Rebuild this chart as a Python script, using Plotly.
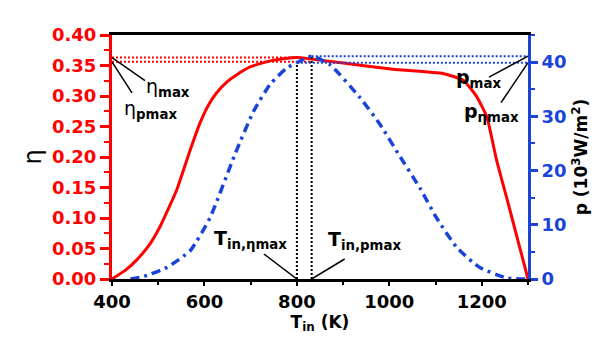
import plotly.graph_objects as go

# ---- data ----
T_eta = [400, 430, 453, 480, 504, 540, 569, 590, 610, 626, 650, 670, 700, 720, 745, 770, 800,
         828, 900, 1008, 1116, 1160, 1189, 1211, 1232, 1255, 1300]
eta = [0.0, 0.015, 0.031, 0.055, 0.086, 0.146, 0.211, 0.255, 0.287, 0.305, 0.324, 0.335,
       0.348, 0.353, 0.358, 0.361, 0.363, 0.361, 0.354, 0.344, 0.337, 0.326, 0.299, 0.266,
       0.195, 0.130, 0.0]

T_p = [440, 470, 518, 569, 612, 666, 706, 742, 778, 800, 832, 872, 937, 980, 1020, 1066,
       1102, 1146, 1196, 1254, 1300]
p = [0.0, 0.5, 2.1, 5.2, 11.3, 23.0, 30.9, 35.9, 38.9, 39.9, 41.1, 39.5, 33.4, 28.5, 23.0,
     16.8, 11.3, 5.8, 2.1, 0.2, 0.0]

T_eta_max = 800
T_p_max = 832
eta_max = 0.363
eta_pmax = 0.356
p_max = 41.1
p_etamax = 39.9

x_range = [400, 1300]
y_range = [0, 0.40]
y2_range = [0, 45]
x_ticks = [400, 600, 800, 1000, 1200]
y_ticks = [0.00, 0.05, 0.10, 0.15, 0.20, 0.25, 0.30, 0.35, 0.40]
y2_ticks = [0, 10, 20, 30, 40]

RED = "#ff0000"
BLUE = "#1a44d8"
FONT = "DejaVu Sans"

fig = go.Figure()

# reference dotted lines
fig.add_trace(go.Scatter(x=[x_range[0], T_eta_max], y=[eta_max, eta_max], mode="lines",
                         line=dict(color=RED, width=2, dash="2px,2px"), hoverinfo="skip"))
fig.add_trace(go.Scatter(x=[x_range[0], T_p_max], y=[eta_pmax, eta_pmax], mode="lines",
                         line=dict(color=RED, width=2, dash="2px,2px"), hoverinfo="skip"))
fig.add_trace(go.Scatter(x=[T_p_max, x_range[1]], y=[p_max, p_max], mode="lines", yaxis="y2",
                         line=dict(color=BLUE, width=2, dash="2px,2px"), hoverinfo="skip"))
fig.add_trace(go.Scatter(x=[T_eta_max, x_range[1]], y=[p_etamax, p_etamax], mode="lines", yaxis="y2",
                         line=dict(color=BLUE, width=2, dash="2px,2px"), hoverinfo="skip"))
fig.add_trace(go.Scatter(x=[T_eta_max, T_eta_max], y=[0, eta_max], mode="lines",
                         line=dict(color="black", width=2, dash="2px,2px"), hoverinfo="skip"))
fig.add_trace(go.Scatter(x=[T_p_max, T_p_max], y=[0, p_max], mode="lines", yaxis="y2",
                         line=dict(color="black", width=2, dash="2px,2px"), hoverinfo="skip"))

# main curves
fig.add_trace(go.Scatter(x=T_p, y=p, mode="lines", yaxis="y2",
                         line=dict(color=BLUE, width=3.5, dash="9px,5px,3px,5px",
                                   shape="spline", smoothing=0.5)))
fig.add_trace(go.Scatter(x=T_eta, y=eta, mode="lines",
                         line=dict(color=RED, width=3, shape="spline", smoothing=0.4)))

# leader lines (pixel offsets from data anchors)
def leader(xa, ya, dx, dy, yref="y"):
    fig.add_shape(type="line", xref="x", yref=yref, xsizemode="pixel", ysizemode="pixel",
                  xanchor=xa, yanchor=ya, x0=0, y0=0, x1=dx, y1=-dy,
                  line=dict(color="black", width=1.5))

leader(x_range[0], eta_max, 33, 23)
leader(x_range[0], eta_pmax, 20, 31)
leader(x_range[1], p_max, -39, 21, "y2")
leader(x_range[1], p_etamax, -27, 40, "y2")
leader(T_eta_max, 0, -33, -25)
leader(T_p_max, 0, 33, -20)

def label(text, xa, ya, dx, dy, yref="y"):
    fig.add_annotation(text=text, x=xa, y=ya, xref="x", yref=yref, showarrow=False,
                       xshift=dx, yshift=-dy, xanchor="center", yanchor="middle",
                       font=dict(family=FONT, size=19, color="black"))

label("η<sub><b>max</b></sub>", x_range[0], eta_max, 56, 30)
label("η<sub><b>pmax</b></sub>", x_range[0], eta_pmax, 38, 48)
label("<b>p</b><sub><b>max</b></sub>", x_range[1], p_max, -50, 22, "y2")
label("<b>p</b><sub><b>ηmax</b></sub>", x_range[1], p_etamax, -37, 50, "y2")
label("<b>T</b><sub><b>in,ηmax</b></sub>", T_eta_max, 0, -46, -40)
label("<b>T</b><sub><b>in,pmax</b></sub>", T_p_max, 0, 53, -39)

fig.update_layout(
    width=606, height=337,
    margin=dict(l=112, r=78, t=35, b=58),
    paper_bgcolor="white", plot_bgcolor="white",
    showlegend=False,
    font=dict(family=FONT, color="black"),
    xaxis=dict(
        range=x_range, tickvals=x_ticks, showgrid=False, zeroline=False,
        showline=True, linecolor="black", linewidth=3, mirror=True,
        ticks="outside", ticklen=4, tickwidth=2, tickcolor="black",
        minor=dict(dtick=100, ticks="outside", ticklen=3, tickwidth=2, tickcolor="black"),
        tickfont=dict(family=FONT, size=18, color="black", weight="bold"),
        title=dict(text="<b>T</b><sub><b>in</b></sub><b> (K)</b>",
                   font=dict(family=FONT, size=17, color="black"), standoff=0),
    ),
    yaxis=dict(
        range=y_range, tickvals=y_ticks, ticktext=[f"{v:.2f}" for v in y_ticks],
        showgrid=False, zeroline=False,
        showline=True, linecolor=RED, linewidth=3,
        ticks="outside", ticklen=9, tickwidth=2.5, tickcolor=RED,
        minor=dict(dtick=0.025, ticks="outside", ticklen=5, tickwidth=2, tickcolor=RED),
        tickfont=dict(family=FONT, size=18, color=RED, weight="bold"),
        title=dict(text="η", font=dict(family=FONT, size=24, color="black"), standoff=4),
    ),
    yaxis2=dict(
        range=y2_range, tickvals=y2_ticks, overlaying="y", side="right",
        showgrid=False, zeroline=False,
        showline=True, linecolor=BLUE, linewidth=3,
        ticks="outside", ticklen=7, tickwidth=2.5, tickcolor=BLUE,
        minor=dict(dtick=5, ticks="outside", ticklen=4, tickwidth=2, tickcolor=BLUE),
        tickfont=dict(family=FONT, size=18, color=BLUE, weight="bold"),
        title=dict(text="<b>p (10<sup>3</sup>W/m<sup>2</sup>)</b>",
                   font=dict(family=FONT, size=17, color="black"), standoff=10),
    ),
)

fig.write_html("out.html")
